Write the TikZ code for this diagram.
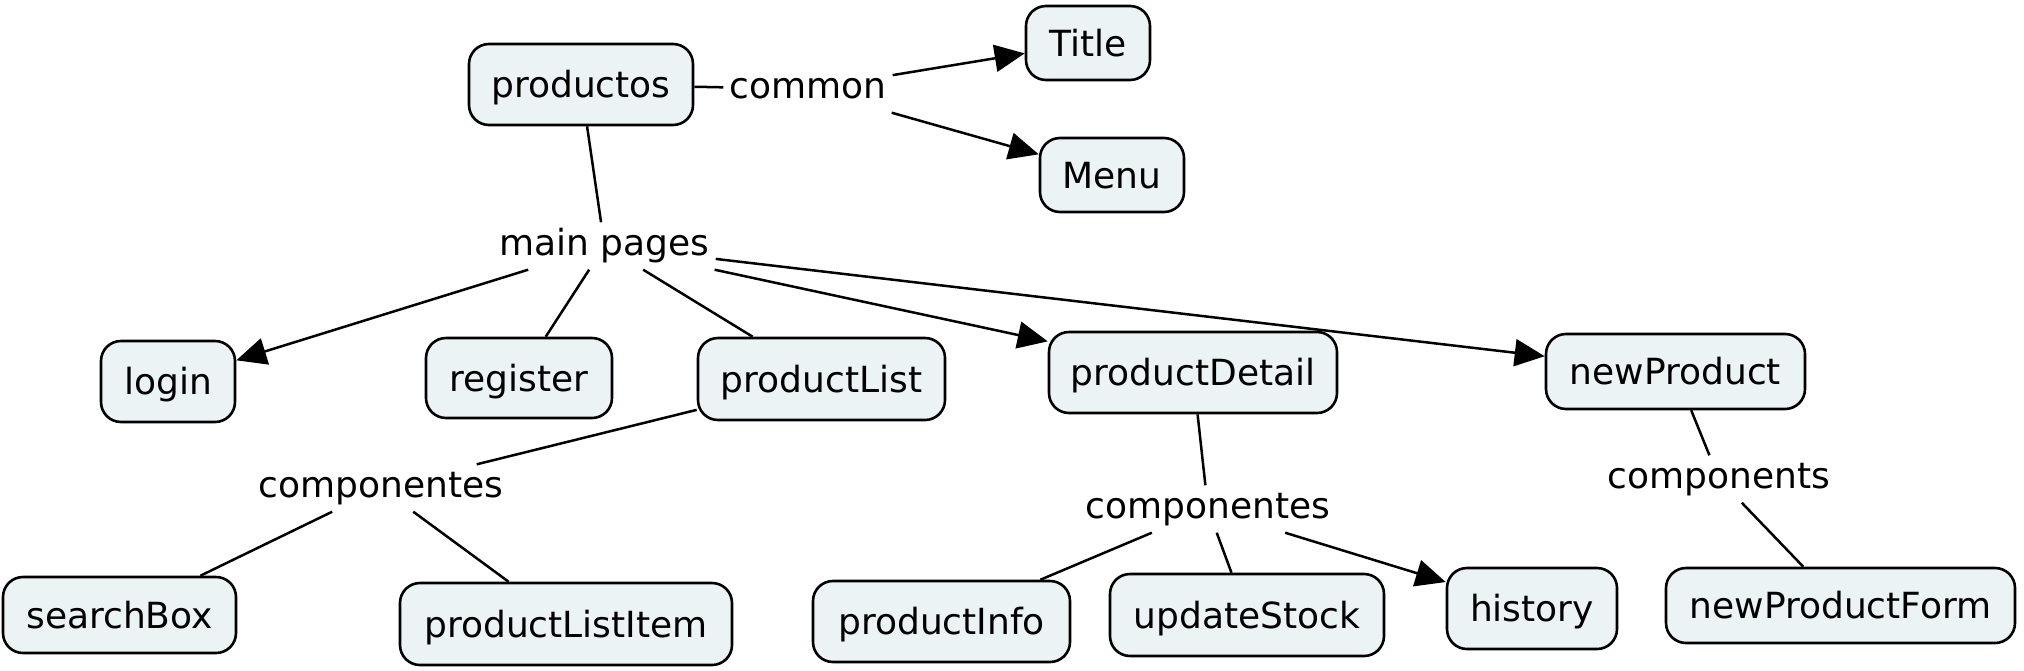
\documentclass[tikz,border=0pt]{standalone}
\usepackage{fontspec}
\setmainfont{DejaVu Sans}
\usetikzlibrary{arrows.meta}
\definecolor{boxfill}{RGB}{236,243,245}
\tikzset{
  concept/.style={draw=black, line width=2.6pt, fill=boxfill, rounded corners=20pt,
    font=\fontsize{36}{40}\selectfont, text height=34pt, text depth=8pt, inner sep=0pt, align=center},
  linkword/.style={font=\fontsize{36}{40}\selectfont, text height=27pt, text depth=8pt, inner sep=6pt},
  conn/.style={line width=2.5pt, draw=black},
  arr/.style={conn, -{Triangle[length=30pt,width=27pt]}}
}
\begin{document}
\begin{tikzpicture}[x=1pt,y=-1pt]
\useasboundingbox (0,0) rectangle (2024,670);
% concepts
\node[concept, minimum width=224pt, minimum height=81pt] (productos) at (581,84.5) {productos};
\node[concept, minimum width=124pt, minimum height=74pt] (title) at (1088,43) {Title};
\node[concept, minimum width=144pt, minimum height=74pt] (menu) at (1112,175) {Menu};
\node[concept, minimum width=134pt, minimum height=81pt] (login) at (168,381.5) {login};
\node[concept, minimum width=186pt, minimum height=80pt] (register) at (519,378) {register};
\node[concept, minimum width=247pt, minimum height=82pt] (productList) at (821.5,379) {productList};
\node[concept, minimum width=288pt, minimum height=81pt] (productDetail) at (1193,372.5) {productDetail};
\node[concept, minimum width=259pt, minimum height=75pt] (newProduct) at (1675.5,371.5) {newProduct};
\node[concept, minimum width=233pt, minimum height=76pt] (searchBox) at (119.5,615) {searchBox};
\node[concept, minimum width=332pt, minimum height=82pt] (productListItem) at (566,624) {productListItem};
\node[concept, minimum width=257pt, minimum height=81pt] (productInfo) at (941.5,621.5) {productInfo};
\node[concept, minimum width=274pt, minimum height=82pt] (updateStock) at (1247,615) {updateStock};
\node[concept, minimum width=170pt, minimum height=81pt] (history) at (1532,608.5) {history};
\node[concept, minimum width=349pt, minimum height=75pt] (newProductForm) at (1840.5,605.5) {newProductForm};
% linking phrases
\node[linkword] (common) at (808,89) {common};
\node[linkword] (mainpages) at (604.5,246) {main pages};
\node[linkword] (compA) at (381,488) {componentes};
\node[linkword] (compB) at (1208,509) {componentes};
\node[linkword] (compC) at (1719,479) {components};
% connectors
\draw[conn] (productos) -- (common);
\draw[arr] (common) -- (title);
\draw[arr] (common) -- (menu);
\draw[conn] (productos) -- (mainpages);
\draw[arr] (mainpages) -- (login);
\draw[conn] (mainpages) -- (register);
\draw[conn] (mainpages) -- (productList);
\draw[arr] (mainpages) -- (productDetail);
\draw[arr] (mainpages) -- (newProduct);
\draw[conn] (productList) -- (compA);
\draw[conn] (compA) -- (searchBox);
\draw[conn] (compA) -- (productListItem);
\draw[conn] (productDetail) -- (compB);
\draw[conn] (compB) -- (productInfo);
\draw[conn] (compB) -- (updateStock);
\draw[arr] (compB) -- (history);
\draw[conn] (newProduct) -- (compC);
\draw[conn] (compC) -- (newProductForm);
\end{tikzpicture}
\end{document}
